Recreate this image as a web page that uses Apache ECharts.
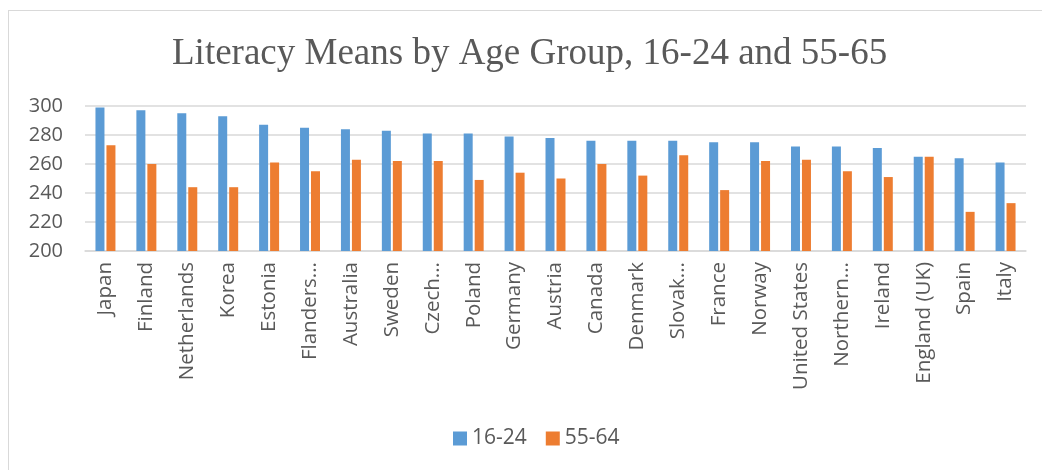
<!DOCTYPE html>
<html>
<head>
<meta charset="utf-8">
<script src="https://cdn.jsdelivr.net/npm/echarts@6/dist/echarts.min.js"></script>
<style>
  html, body { margin: 0; padding: 0; background: #fff; }
  #frame { position: absolute; left: 8px; top: 10px; width: 1040px; height: 470px; border: 1px solid #d9d9d9; box-sizing: border-box; }
  #main { position: absolute; left: 0; top: 0; width: 1042px; height: 470px; }
</style>
</head>
<body>
<div id="frame"></div>
<div id="main"></div>
<script>
const countries = ['Japan', 'Finland', 'Netherlands', 'Korea', 'Estonia', 'Flanders...', 'Australia',
  'Sweden', 'Czech...', 'Poland', 'Germany', 'Austria', 'Canada', 'Denmark', 'Slovak...', 'France',
  'Norway', 'United States', 'Northern...', 'Ireland', 'England (UK)', 'Spain', 'Italy']
const young = [299, 297, 295, 293, 287, 285, 284, 283, 281, 281, 279, 278, 276, 276, 276, 275, 275, 272, 272, 271, 265, 264, 261]
const old = [273, 260, 244, 244, 261, 255, 263, 262, 262, 249, 254, 250, 260, 252, 266, 242, 262, 263, 255, 251, 265, 227, 233]
const seriesNames = ['16-24', '55-64']

const chart = echarts.init(document.getElementById('main'))
const font = '"Open Sans", sans-serif'

chart.setOption({
  animation: false,
  color: ['#5B9BD5', '#ED7D31'],
  title: {
    text: 'Literacy Means by Age Group, 16-24 and 55-65',
    left: 167,
    top: 31,
    padding: 5,
    textStyle: {
      fontFamily: '"Liberation Serif", "Times New Roman", serif',
      fontWeight: 'normal',
      fontSize: 37,
      color: '#595959'
    }
  },
  legend: {
    data: seriesNames,
    bottom: 16,
    left: 448,
    padding: 5,
    itemWidth: 14,
    itemHeight: 14,
    itemGap: 19,
    icon: 'rect',
    textStyle: { fontFamily: font, fontSize: 21, color: '#595959' }
  },
  grid: {
    left: 85,
    right: 16,
    top: 106,
    bottom: 219,
    outerBoundsMode: 'none'
  },
  xAxis: {
    type: 'category',
    data: countries,
    axisLine: { lineStyle: { color: '#d9d9d9', width: 1.5 } },
    axisTick: { show: false },
    axisLabel: {
      rotate: 90,
      interval: 0,
      margin: 11,
      fontFamily: font,
      fontSize: 20.5,
      color: '#595959'
    }
  },
  yAxis: {
    type: 'value',
    min: 200,
    max: 300,
    interval: 20,
    axisLine: { show: false },
    axisTick: { show: false },
    splitLine: { lineStyle: { color: '#d9d9d9', width: 1.5 } },
    axisLabel: {
      margin: 22,
      fontFamily: font,
      fontSize: 20,
      color: '#595959'
    }
  },
  series: [{
    name: seriesNames[0],
    type: 'bar',
    data: young,
    barWidth: 9,
    barGap: '22%'
  }, {
    name: seriesNames[1],
    type: 'bar',
    data: old,
    barWidth: 9,
    barGap: '22%'
  }]
})
</script>
</body>
</html>
